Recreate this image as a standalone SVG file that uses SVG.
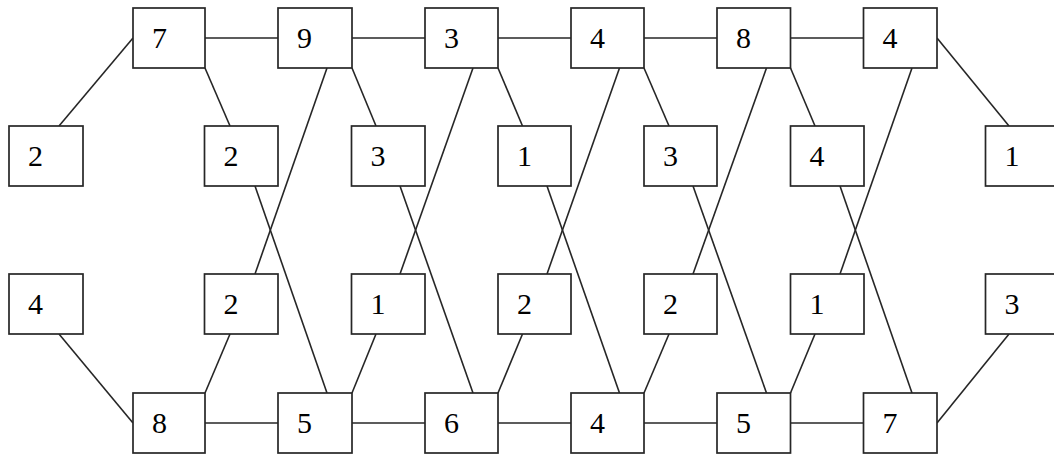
<svg xmlns="http://www.w3.org/2000/svg" width="1054" height="455" viewBox="0 0 1054 455">
<style>
rect{fill:#fff;stroke:#262626;stroke-width:1.7}
text{font-family:"Liberation Serif","Times New Roman",serif;font-size:30px;fill:#000}
#edges line{stroke:#262626;stroke-width:1.6}
</style>
<rect x="0" y="0" width="1054" height="455" style="fill:#fff;stroke:none"/>
<g id="edges">
<line x1="133" y1="38" x2="59" y2="126"/>
<line x1="205" y1="38" x2="278" y2="38"/>
<line x1="352" y1="38" x2="425" y2="38"/>
<line x1="498" y1="38" x2="571" y2="38"/>
<line x1="644" y1="38" x2="717" y2="38"/>
<line x1="790.5" y1="38" x2="863.5" y2="38"/>
<line x1="937" y1="38" x2="1009" y2="126"/>
<line x1="205" y1="68" x2="230" y2="126"/>
<line x1="352" y1="68" x2="376" y2="126"/>
<line x1="498" y1="68" x2="522.5" y2="126"/>
<line x1="644" y1="68" x2="669" y2="126"/>
<line x1="790.5" y1="68" x2="815" y2="126"/>
<line x1="327" y1="68" x2="255" y2="274"/>
<line x1="473" y1="68" x2="400" y2="274"/>
<line x1="619.5" y1="68" x2="547" y2="274"/>
<line x1="766.5" y1="68" x2="693" y2="274"/>
<line x1="912" y1="68" x2="840" y2="274"/>
<line x1="255" y1="186" x2="327" y2="393"/>
<line x1="400" y1="186" x2="473" y2="393"/>
<line x1="547" y1="186" x2="619.5" y2="393"/>
<line x1="693" y1="186" x2="766.5" y2="393"/>
<line x1="840" y1="186" x2="912" y2="393"/>
<line x1="230" y1="334" x2="205" y2="393"/>
<line x1="376" y1="334" x2="352" y2="393"/>
<line x1="522.5" y1="334" x2="498" y2="393"/>
<line x1="669" y1="334" x2="644" y2="393"/>
<line x1="815" y1="334" x2="790.5" y2="393"/>
<line x1="59" y1="334" x2="133" y2="423"/>
<line x1="1009" y1="334" x2="937" y2="423"/>
<line x1="205" y1="423" x2="278" y2="423"/>
<line x1="352" y1="423" x2="425" y2="423"/>
<line x1="498" y1="423" x2="571" y2="423"/>
<line x1="644" y1="423" x2="717" y2="423"/>
<line x1="790.5" y1="423" x2="863.5" y2="423"/>
</g>
<g id="t1"><rect x="133" y="8" width="72" height="60"/><text x="152" y="48">7</text></g>
<g id="t2"><rect x="278" y="8" width="74" height="60"/><text x="297" y="48">9</text></g>
<g id="t3"><rect x="425" y="8" width="73" height="60"/><text x="444" y="48">3</text></g>
<g id="t4"><rect x="571" y="8" width="73" height="60"/><text x="590" y="48">4</text></g>
<g id="t5"><rect x="717" y="8" width="73.5" height="60"/><text x="736" y="48">8</text></g>
<g id="t6"><rect x="863.5" y="8" width="73.5" height="60"/><text x="882.5" y="48">4</text></g>
<g id="a0"><rect x="9" y="126" width="74" height="60"/><text x="28" y="166">2</text></g>
<g id="a1"><rect x="204.5" y="126" width="73.5" height="60"/><text x="223.5" y="166">2</text></g>
<g id="a2"><rect x="351.5" y="126" width="73.5" height="60"/><text x="370.5" y="166">3</text></g>
<g id="a3"><rect x="498" y="126" width="73" height="60"/><text x="517" y="166">1</text></g>
<g id="a4"><rect x="644" y="126" width="73" height="60"/><text x="663" y="166">3</text></g>
<g id="a5"><rect x="790.5" y="126" width="73.5" height="60"/><text x="809.5" y="166">4</text></g>
<g id="a6"><rect x="985.5" y="126" width="74" height="60"/><text x="1004.5" y="166">1</text></g>
<g id="b0"><rect x="9" y="274" width="74" height="60"/><text x="28" y="314">4</text></g>
<g id="b1"><rect x="204.5" y="274" width="73.5" height="60"/><text x="223.5" y="314">2</text></g>
<g id="b2"><rect x="351.5" y="274" width="73.5" height="60"/><text x="370.5" y="314">1</text></g>
<g id="b3"><rect x="498" y="274" width="73" height="60"/><text x="517" y="314">2</text></g>
<g id="b4"><rect x="644" y="274" width="73" height="60"/><text x="663" y="314">2</text></g>
<g id="b5"><rect x="790.5" y="274" width="73.5" height="60"/><text x="809.5" y="314">1</text></g>
<g id="b6"><rect x="985.5" y="274" width="74" height="60"/><text x="1004.5" y="314">3</text></g>
<g id="u1"><rect x="133" y="393" width="72" height="60"/><text x="152" y="433">8</text></g>
<g id="u2"><rect x="278" y="393" width="74" height="60"/><text x="297" y="433">5</text></g>
<g id="u3"><rect x="425" y="393" width="73" height="60"/><text x="444" y="433">6</text></g>
<g id="u4"><rect x="571" y="393" width="73" height="60"/><text x="590" y="433">4</text></g>
<g id="u5"><rect x="717" y="393" width="73.5" height="60"/><text x="736" y="433">5</text></g>
<g id="u6"><rect x="863.5" y="393" width="73.5" height="60"/><text x="882.5" y="433">7</text></g>
</svg>
